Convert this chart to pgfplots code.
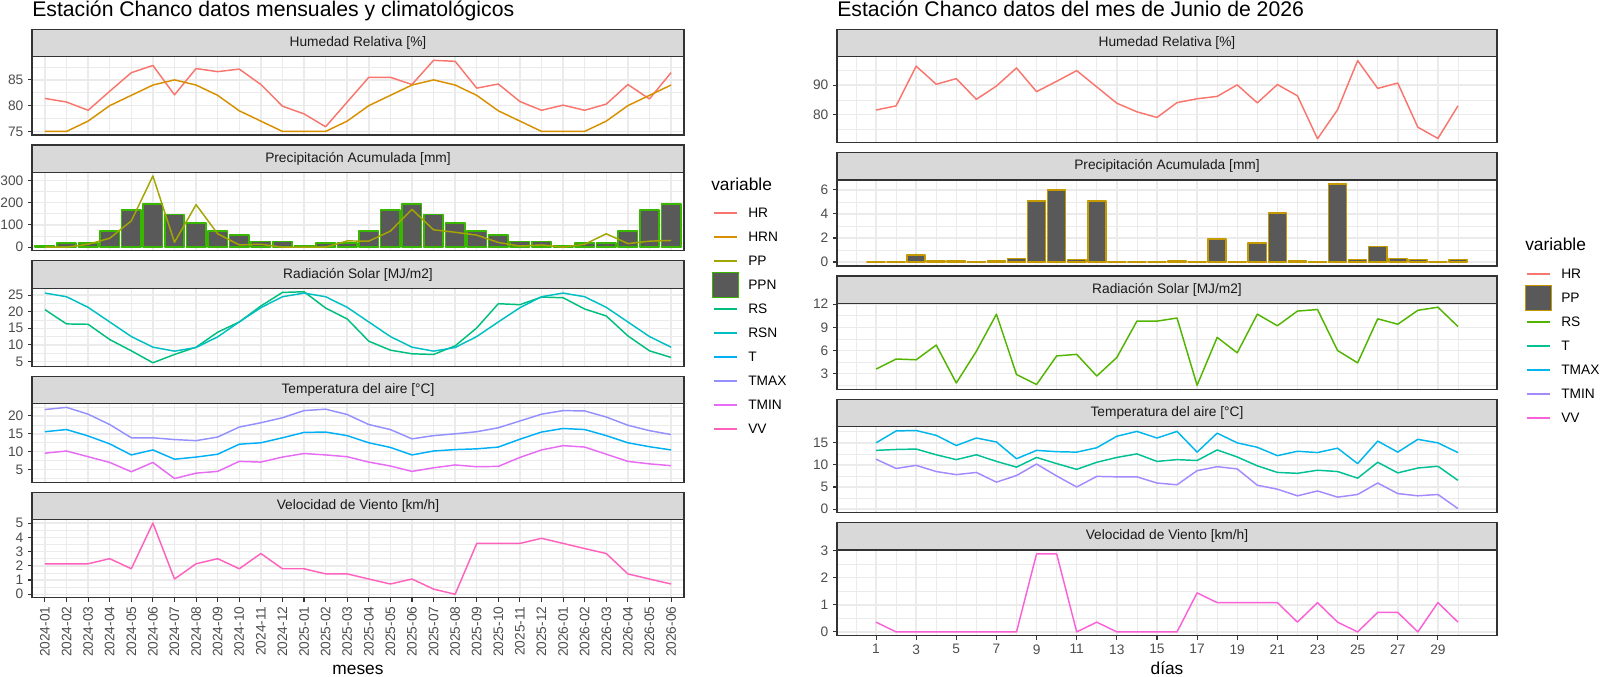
\documentclass[border=0pt]{standalone}
\usepackage{fontspec}
\setmainfont{Liberation Sans}
\usepackage{pgfplots}
\usepackage{pgfplotstable}
\pgfplotsset{compat=1.18}

\definecolor{g20}{HTML}{333333}
\definecolor{g30}{HTML}{4D4D4D}
\definecolor{g92}{HTML}{EBEBEB}
\definecolor{g85}{HTML}{D9D9D9}
\definecolor{g35}{HTML}{595959}
\definecolor{g10}{HTML}{1A1A1A}
% 10-level hue palette (left)
\definecolor{cHR}{HTML}{F8766D}
\definecolor{cHRN}{HTML}{D89000}
\definecolor{cPP}{HTML}{A3A500}
\definecolor{cPPN}{HTML}{39B600}
\definecolor{cRS}{HTML}{00BF7D}
\definecolor{cRSN}{HTML}{00BFC4}
\definecolor{cT}{HTML}{00B0F6}
\definecolor{cTMAX}{HTML}{9590FF}
\definecolor{cTMIN}{HTML}{E76BF3}
\definecolor{cVV}{HTML}{FF62BC}
% 7-level hue palette (right)
\definecolor{dHR}{HTML}{F8766D}
\definecolor{dPP}{HTML}{C49A00}
\definecolor{dRS}{HTML}{53B400}
\definecolor{dT}{HTML}{00C094}
\definecolor{dTMAX}{HTML}{00B6EB}
\definecolor{dTMIN}{HTML}{A58AFF}
\definecolor{dVV}{HTML}{FB61D7}

\pgfplotstableread{
i HR HRN PP PPN RS RSN T TMAX TMIN VV
0 81.4 75 0 8 20.6 25.6 15.6 21.8 9.6 2.14
1 80.7 75 0 18 16.3 24.5 16.2 22.4 10.2 2.14
2 79.1 77 13 18 16.2 21.3 14.4 20.5 8.6 2.14
3 82.8 80 40 72 11.6 16.9 12.2 17.6 7.0 2.50
4 86.4 82 118 166 8.2 12.5 9.1 13.9 4.4 1.79
5 87.8 84 320 193 4.6 9.3 10.5 13.9 7.0 5.00
6 82.1 85 22 146 7.1 8.1 7.9 13.4 2.5 1.07
7 87.2 84 191 109 9.3 9.2 8.5 13.1 4.0 2.14
8 86.6 82 60 72 13.8 12.4 9.3 14.1 4.5 2.50
9 87.1 79 10 54 16.9 16.9 12.1 16.9 7.3 1.79
10 84.1 77 13 25 21.7 21.2 12.5 18.1 7.1 2.86
11 79.9 75 0 25 25.8 24.5 13.9 19.5 8.5 1.79
12 78.4 75 0 8 26.0 25.6 15.4 21.5 9.5 1.79
13 75.9 75 0 18 21.1 24.5 15.5 21.9 9.1 1.43
14 80.7 77 28 18 17.8 21.3 14.5 20.4 8.6 1.43
15 85.5 80 27 72 11.1 16.9 12.5 17.6 7.1 1.07
16 85.5 82 72 166 8.4 12.5 11.2 16.2 6.0 0.72
17 84.1 84 170 193 7.3 9.3 9.1 13.6 4.5 1.07
18 88.8 85 78 146 7.1 8.1 10.2 14.5 5.5 0.36
19 88.6 84 67 109 9.7 9.2 10.6 15.0 6.3 0.00
20 83.4 82 54 72 15.1 12.5 10.8 15.6 5.8 3.57
21 84.2 79 21 54 22.4 16.9 11.3 16.7 5.9 3.57
22 80.8 77 5 25 22.1 21.2 13.5 18.6 8.4 3.57
23 79.1 75 10 25 24.4 24.5 15.5 20.5 10.5 3.93
24 80.1 75 0 8 24.2 25.6 16.5 21.5 11.7 3.57
25 79.1 75 13 18 20.8 24.5 16.2 21.4 11.3 3.21
26 80.3 77 60 18 18.7 21.3 14.5 19.7 9.3 2.86
27 84.1 80 16 72 12.7 16.9 12.5 17.4 7.3 1.43
28 81.3 82 27 166 8.2 12.5 11.4 15.9 6.6 1.07
29 86.4 84 30 193 6.2 9.3 10.5 14.8 6.1 0.72
}\mon

\pgfplotstableread{
d HR PP RS T TMAX TMIN VV
1 81.6 0 3.6 13.3 15.0 11.3 0.36
2 83.0 0 4.9 13.5 17.7 9.2 0
3 96.4 0.6 4.8 13.6 17.8 9.9 0
4 90.3 0.1 6.7 12.3 16.7 8.5 0
5 92.2 0.1 1.8 11.2 14.4 7.8 0
6 85.2 0 5.9 12.3 16.1 8.3 0
7 89.7 0.1 10.7 10.8 15.2 6.1 0
8 95.8 0.3 2.9 9.5 11.4 7.6 0
9 87.8 5.1 1.6 11.7 13.3 10.2 2.88
10 91.3 6.0 5.3 10.3 13.0 7.5 2.88
11 94.9 0.2 5.5 9.0 12.9 5.0 0
12 89.4 5.1 2.7 10.6 13.9 7.4 0.36
13 83.9 0 5.1 11.7 16.5 7.3 0
14 81.0 0 9.8 12.5 17.6 7.3 0
15 79.1 0 9.8 10.8 16.1 5.9 0
16 84.1 0.1 10.2 11.2 17.6 5.5 0
17 85.4 0 1.5 11.0 12.9 8.7 1.44
18 86.2 1.9 7.7 13.4 17.2 9.6 1.08
19 90.1 0 5.7 11.8 15.0 9.1 1.08
20 84.0 1.6 10.7 9.8 14.0 5.4 1.08
21 90.2 4.1 9.2 8.3 12.1 4.5 1.08
22 86.4 0.1 11.1 8.1 13.1 3.0 0.36
23 71.9 0 11.3 8.8 12.8 4.1 1.08
24 81.7 6.5 6.0 8.5 13.8 2.7 0.36
25 98.3 0.2 4.4 7.0 10.3 3.3 0
26 88.9 1.3 10.1 10.6 15.4 5.9 0.72
27 90.7 0.3 9.4 8.2 12.9 3.5 0.72
28 75.8 0.2 11.2 9.3 15.8 3.0 0
29 72.0 0 11.6 9.7 15.0 3.3 1.08
30 83.0 0.2 9.1 6.5 12.8 0.1 0.36
}\day

\newcommand{\sm}{\fontsize{10.3pt}{12pt}\selectfont}
\newcommand{\md}{\fontsize{13pt}{15pt}\selectfont}

\pgfplotsset{
  panel/.style={
    scale only axis, anchor=north west,
    axis line style={g20, line width=0.9pt},
    tick style={g20, line width=0.8pt},
    tick align=outside, tick pos=left,
    major tick length=3pt, minor tick length=0pt,
    grid=both,
    major grid style={g92, line width=1.1pt},
    minor grid style={g92, line width=0.55pt},
    tick label style={font=\sm, text=g30},
    /pgf/number format/assume math mode=true,
    every axis plot/.append style={line width=1.1pt, line join=round},
  },
  lp/.style={panel, width=489pt, height=58.725pt, xmin=-0.6, xmax=29.6, xtick={0,...,29}},
  rp/.style={panel, width=495pt, height=64.425pt, xmin=-0.945, xmax=31.945, xtick={1,3,...,29}, minor xtick={0,2,...,30}},
  nox/.style={xticklabels={}, xtick style={draw=none}},
}

\newcommand{\strip}[4]{% x0, x1, top (pt), label
  \draw[g20, fill=g85, line width=0.9pt] (#1pt,-#3pt) rectangle (#2pt,{-(#3+20.55)*1pt});
  \node[font=\sm, text=g10] at ({(#1+#2)/2*1pt},{-(#3+10.275)*1pt}) {#4};
}
\newcommand{\lkey}[4]{% x0, y(pt), color, label
  \draw[#3, line width=1.1pt] (#1pt,-#2pt) -- ({(#1+17.25)*1pt},-#2pt);
  \node[anchor=west, inner sep=0, font=\sm, text=black] at ({(#1+25.5)*1pt},-#2pt) {#4};
}

\begin{document}
\begin{tikzpicture}
\useasboundingbox (0,0) rectangle (1200pt,-507pt);

\node[anchor=base west, inner sep=0, font=\fontsize{15.9pt}{18pt}\selectfont] at (24pt,-12.5pt) {Estación Chanco datos mensuales y climatológicos};
\node[anchor=base west, inner sep=0, font=\fontsize{15.9pt}{18pt}\selectfont] at (627.75pt,-12.5pt) {Estación Chanco datos del mes de Junio de 2026};

% ---------------- LEFT ----------------
\begin{axis}[lp, nox, at={(24pt,-42.525pt)}, ymin=74.3, ymax=89.5, ytick={75,80,85}, minor ytick={77.5,82.5,87.5}]
\addplot[cHR] table[x=i,y=HR] {\mon};
\addplot[cHRN] table[x=i,y=HRN] {\mon};
\end{axis}
\begin{axis}[lp, nox, at={(24pt,-129.3pt)}, ymin=-16, ymax=336, ytick={0,100,200,300}, minor ytick={50,150,250}]
\addplot[ybar, bar width=0.9, fill=g35, draw=cPPN, line width=1.2pt] table[x=i,y=PPN] {\mon};
\addplot[cPP] table[x=i,y=PP] {\mon};
\end{axis}
\begin{axis}[lp, nox, at={(24pt,-216.075pt)}, ymin=3.5, ymax=27.1, ytick={5,10,15,20,25}, minor ytick={7.5,12.5,17.5,22.5}]
\addplot[cRS] table[x=i,y=RS] {\mon};
\addplot[cRSN] table[x=i,y=RSN] {\mon};
\end{axis}
\begin{axis}[lp, nox, at={(24pt,-302.85pt)}, ymin=1.5, ymax=23.4, ytick={5,10,15,20}, minor ytick={2.5,7.5,12.5,17.5,22.5}]
\addplot[cT] table[x=i,y=T] {\mon};
\addplot[cTMAX] table[x=i,y=TMAX] {\mon};
\addplot[cTMIN] table[x=i,y=TMIN] {\mon};
\end{axis}
\begin{axis}[lp, at={(24pt,-389.625pt)}, ymin=-0.25, ymax=5.25, ytick={0,1,2,3,4,5}, minor ytick={0.5,1.5,2.5,3.5,4.5},
  xticklabels={2024-01,2024-02,2024-03,2024-04,2024-05,2024-06,2024-07,2024-08,2024-09,2024-10,2024-11,2024-12,2025-01,2025-02,2025-03,2025-04,2025-05,2025-06,2025-07,2025-08,2025-09,2025-10,2025-11,2025-12,2026-01,2026-02,2026-03,2026-04,2026-05,2026-06},
  xticklabel style={rotate=90, anchor=east}]
\addplot[cVV] table[x=i,y=VV] {\mon};
\end{axis}

\strip{24}{513}{21.975}{Humedad Relativa [\%]}
\strip{24}{513}{108.75}{Precipitación Acumulada [mm]}
\strip{24}{513}{195.525}{Radiación Solar [MJ/m2]}
\strip{24}{513}{282.3}{Temperatura del aire [°C]}
\strip{24}{513}{369.075}{Velocidad de Viento [km/h]}

\node[font=\md, anchor=base, inner sep=0] at (268.5pt,-506pt) {meses};

% legend left
\node[anchor=west, inner sep=0, font=\md] at (533.25pt,-138pt) {variable};
\lkey{535.5}{159.75}{cHR}{HR}
\lkey{535.5}{177.75}{cHRN}{HRN}
\lkey{535.5}{195.75}{cPP}{PP}
\draw[cPPN, fill=g35, line width=1.2pt] (534.3pt,-204.4pt) rectangle (553.9pt,-223.1pt);
\node[anchor=west, inner sep=0, font=\sm] at (561pt,-213.75pt) {PPN};
\lkey{535.5}{231.75}{cRS}{RS}
\lkey{535.5}{249.75}{cRSN}{RSN}
\lkey{535.5}{267.75}{cT}{T}
\lkey{535.5}{285.75}{cTMAX}{TMAX}
\lkey{535.5}{303.75}{cTMIN}{TMIN}
\lkey{535.5}{321.75}{cVV}{VV}

% ---------------- RIGHT ----------------
\begin{axis}[rp, nox, at={(627.75pt,-42.525pt)}, ymin=70.6, ymax=99.6, ytick={80,90}, minor ytick={75,85,95}]
\addplot[dHR] table[x=d,y=HR] {\day};
\end{axis}
\begin{axis}[rp, nox, at={(627.75pt,-135pt)}, ymin=-0.325, ymax=6.825, ytick={0,2,4,6}, minor ytick={1,3,5}]
\addplot[ybar, bar width=0.9, fill=g35, draw=dPP, line width=1.2pt] table[x=d,y=PP] {\day};
\end{axis}
\begin{axis}[rp, nox, at={(627.75pt,-227.475pt)}, ymin=0.995, ymax=12.105, ytick={3,6,9,12}, minor ytick={1.5,4.5,7.5,10.5}]
\addplot[dRS] table[x=d,y=RS] {\day};
\end{axis}
\begin{axis}[rp, nox, at={(627.75pt,-319.95pt)}, ymin=-0.785, ymax=18.685, ytick={0,5,10,15}, minor ytick={2.5,7.5,12.5,17.5}]
\addplot[dT] table[x=d,y=T] {\day};
\addplot[dTMAX] table[x=d,y=TMAX] {\day};
\addplot[dTMIN] table[x=d,y=TMIN] {\day};
\end{axis}
\begin{axis}[rp, at={(627.75pt,-412.425pt)}, ymin=-0.144, ymax=3.024, ytick={0,1,2,3}, minor ytick={0.5,1.5,2.5}]
\addplot[dVV] table[x=d,y=VV] {\day};
\end{axis}

\strip{627.75}{1122.75}{21.975}{Humedad Relativa [\%]}
\strip{627.75}{1122.75}{114.45}{Precipitación Acumulada [mm]}
\strip{627.75}{1122.75}{206.925}{Radiación Solar [MJ/m2]}
\strip{627.75}{1122.75}{299.4}{Temperatura del aire [°C]}
\strip{627.75}{1122.75}{391.875}{Velocidad de Viento [km/h]}

\node[font=\md, anchor=base, inner sep=0] at (875.25pt,-506pt) {días};

% legend right
\node[anchor=west, inner sep=0, font=\md] at (1143.75pt,-183pt) {variable};
\lkey{1145.25}{205.5}{dHR}{HR}
\draw[dPP, fill=g35, line width=1.2pt] (1144pt,-214.2pt) rectangle (1163.6pt,-232.8pt);
\node[anchor=west, inner sep=0, font=\sm] at (1170.75pt,-223.5pt) {PP};
\lkey{1145.25}{241.5}{dRS}{RS}
\lkey{1145.25}{259.5}{dT}{T}
\lkey{1145.25}{277.5}{dTMAX}{TMAX}
\lkey{1145.25}{295.5}{dTMIN}{TMIN}
\lkey{1145.25}{313.5}{dVV}{VV}
\end{tikzpicture}
\end{document}
